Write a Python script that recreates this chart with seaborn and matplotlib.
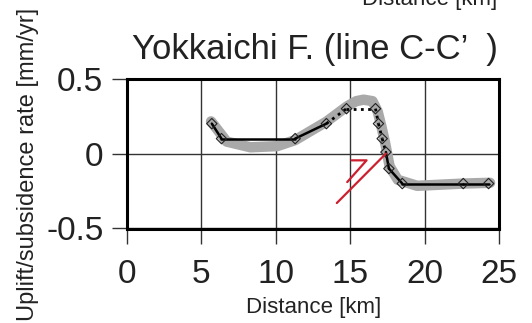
import matplotlib
matplotlib.use("Agg")
import matplotlib.pyplot as plt
import seaborn as sns
import numpy as np
import pandas as pd

sns.set_theme(style="white")
plt.rcParams["font.family"] = ["Liberation Sans", "DejaVu Sans"]

# Observed profile points (distance in km, rate in mm/yr)
obs_x = [5.7, 6.35, 11.3, 13.4, 14.75, 16.7, 16.9, 17.15, 17.4, 17.6, 18.5, 22.6, 24.3]
obs_y = [0.20, 0.10, 0.10, 0.20, 0.30, 0.30, 0.20, 0.10, 0.01, -0.10, -0.20, -0.20, -0.20]
# segment style per point-to-point link: True = solid, False = dotted
solid_link = [True, True, True, False, False, False, False, False, True, True, True, True]

# Smoothed model curve
model_x = [5.65, 6.7, 8.3, 10.1, 11.3, 13.4, 14.75, 15.4, 15.9, 16.5, 16.85, 17.1, 17.35,
           17.65, 18.2, 19.5, 22.6, 24.4]
model_y = [0.215, 0.08, 0.042, 0.05, 0.09, 0.213, 0.313, 0.35, 0.36, 0.35, 0.28, 0.18, 0.07,
           -0.085, -0.175, -0.215, -0.2, -0.195]

# Fault trace symbol (red)
fault_main_x = [14.1, 17.4]
fault_main_y = [-0.33, 0.0]
fault_tick_x = [14.8, 16.1, 15.1]
fault_tick_y = [-0.19, -0.045, -0.045]

x_ticks = [0, 5, 10, 15, 20, 25]
y_ticks = [-0.5, 0, 0.5]
y_ticklabels = ["-0.5", "0", "0.5"]

W, H = 532, 323
fig = plt.figure(figsize=(W / 100, H / 100), dpi=100)
ax = fig.add_axes([127 / W, 1 - 228.5 / H, (499 - 127) / W, (228.5 - 78.7) / H])

model = pd.DataFrame({"x": model_x, "y": model_y})
sns.lineplot(data=model, x="x", y="y", ax=ax, color="#a9a9a9", linewidth=7.5,
             sort=False, estimator=None, solid_capstyle="round", solid_joinstyle="round",
             zorder=2)

for i, solid in enumerate(solid_link):
    seg = pd.DataFrame({"x": obs_x[i:i + 2], "y": obs_y[i:i + 2]})
    if solid:
        sns.lineplot(data=seg, x="x", y="y", ax=ax, color="black", linewidth=1.8,
                     sort=False, estimator=None, zorder=3)
    else:
        sns.lineplot(data=seg, x="x", y="y", ax=ax, color="black", linewidth=2.0,
                     linestyle=(0, (1, 1.6)), sort=False, estimator=None, zorder=3)

pts = pd.DataFrame({"x": obs_x, "y": obs_y})
sns.scatterplot(data=pts, x="x", y="y", ax=ax, marker="D", s=28, facecolor="none",
                edgecolor="#222222", linewidth=0.8, zorder=4)

ax.plot(fault_main_x, fault_main_y, color="#cc1f2f", linewidth=1.6, zorder=5)
ax.plot(fault_tick_x, fault_tick_y, color="#cc1f2f", linewidth=1.6, zorder=5)

ax.set_xlim(0, 25)
ax.set_ylim(-0.5, 0.5)
ax.set_xticks(x_ticks)
ax.set_yticks(y_ticks)
ax.set_yticklabels(y_ticklabels)
ax.grid(True, color="#333333", linewidth=1.0)
ax.set_axisbelow(True)
for s in ax.spines.values():
    s.set_visible(True)
    s.set_color("black")
    s.set_linewidth(2.2)
ax.tick_params(axis="both", direction="out", length=11, width=1.0, color="#333333",
               labelsize=24, labelcolor="#222222", bottom=True, left=True)
ax.tick_params(axis="x", pad=11)
ax.tick_params(axis="y", pad=6)
ax.set_xlabel("")
ax.set_ylabel("")

fig.text(314 / W, 1 - 313 / H, "Distance [km]", ha="center", va="baseline",
         fontsize=16, color="#222222")
fig.text(430 / W, 1 - 5 / H, "Distance [km]", ha="center", va="baseline",
         fontsize=16, color="#222222")
fig.text(28 / W, 1 - 164 / H, "Uplift/subsidence rate [mm/yr]", ha="center",
         va="center", rotation=90, fontsize=17, color="#222222")
fig.text(132 / W, 1 - 59 / H, "Yokkaichi F. (line C-C\u2019  )", ha="left",
         va="baseline", fontsize=25, color="#222222")

fig.savefig("out.png", dpi=100)
